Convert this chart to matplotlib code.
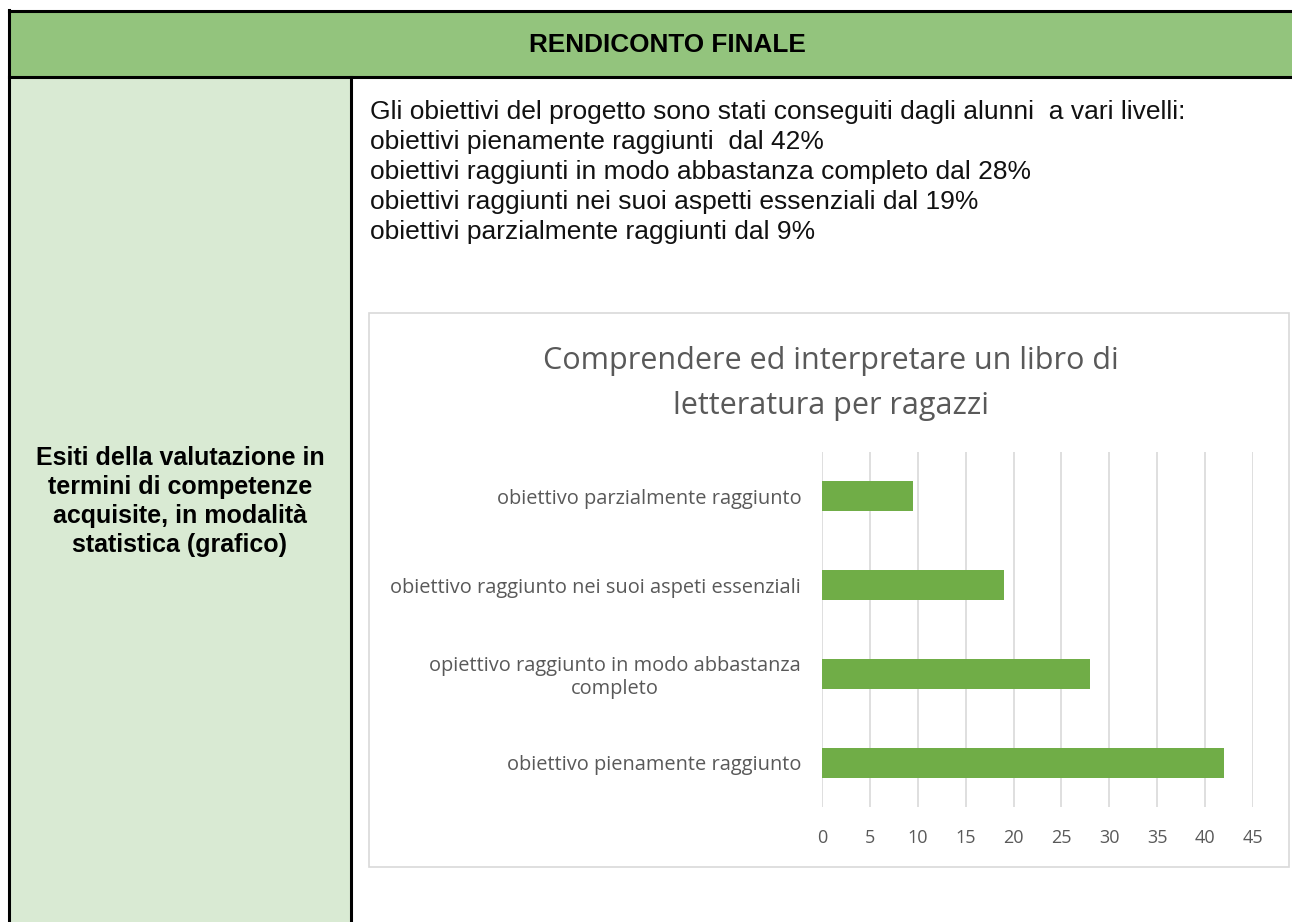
import matplotlib.pyplot as plt
from matplotlib.patches import Rectangle

W, H = 1292, 922

header = "RENDICONTO FINALE"
left_lines = [
    "Esiti della valutazione in",
    "termini di competenze",
    "acquisite, in modalità",
    "statistica (grafico)",
]
intro_lines = [
    "Gli obiettivi del progetto sono stati conseguiti dagli alunni  a vari livelli:",
    "obiettivi pienamente raggiunti  dal 42%",
    "obiettivi raggiunti in modo abbastanza completo dal 28%",
    "obiettivi raggiunti nei suoi aspetti essenziali dal 19%",
    "obiettivi parzialmente raggiunti dal 9%",
]

title_lines = ["Comprendere ed interpretare un libro di", "letteratura per ragazzi"]
categories = [
    "obiettivo pienamente raggiunto",
    "opiettivo raggiunto in modo abbastanza\ncompleto",
    "obiettivo raggiunto nei suoi aspeti essenziali",
    "obiettivo parzialmente raggiunto",
]
values = [42, 28, 19, 9.5]
x_ticks = [0, 5, 10, 15, 20, 25, 30, 35, 40, 45]


def fx(px):
    return px / W


def fy(py):
    return 1 - py / H


def rect(x0, y0, x1, y1, **kw):
    # pixel box (top-left origin) -> figure rectangle
    return Rectangle((fx(x0), fy(y1)), fx(x1) - fx(x0), fy(y0) - fy(y1),
                     transform=fig.transFigure, figure=fig, **kw)


fig = plt.figure(figsize=(W / 100, H / 100), dpi=100)
fig.patch.set_facecolor("white")

# table cells
fig.patches.append(rect(8, 11, W + 5, 77, facecolor="#93c47d", edgecolor="none"))
fig.patches.append(rect(8, 77, 351, H + 5, facecolor="#d9ead3", edgecolor="none"))

# table borders
lw = 2.2
fig.add_artist(plt.Line2D([fx(8.5), fx(W + 5)], [fy(11.5), fy(11.5)], color="black", lw=lw))
fig.add_artist(plt.Line2D([fx(8.5), fx(W + 5)], [fy(77), fy(77)], color="black", lw=lw))
fig.add_artist(plt.Line2D([fx(8.5), fx(8.5)], [fy(10), fy(H + 5)], color="black", lw=lw))
fig.add_artist(plt.Line2D([fx(351.5), fx(351.5)], [fy(77), fy(H + 5)], color="black", lw=lw))

fig.text(fx(667), fy(45), header, ha="center", va="center",
         fontsize=18.8, fontweight="bold", family="Liberation Sans")

for i, line in enumerate(left_lines):
    fig.text(fx(180), fy(465 + i * 29), line, ha="center", va="baseline",
             fontsize=18, fontweight="bold", family="Liberation Sans")

for i, line in enumerate(intro_lines):
    fig.text(fx(370), fy(119 + i * 30), line, ha="left", va="baseline",
             fontsize=19, family="Liberation Sans", color="#111111")

# chart frame
fig.patches.append(rect(369, 313, 1289, 867, facecolor="white",
                        edgecolor="#d9d9d9", lw=1.2))

for line, yb in zip(title_lines, [369, 414]):
    fig.text(fx(831), fy(yb), line, ha="center", va="baseline",
             fontsize=22, family="Open Sans", color="#595959")

ax = fig.add_axes([fx(822), fy(807), fx(1253) - fx(822), fy(452) - fy(807)])
ax.set_zorder(3)
ypos = range(len(categories))
ax.barh(ypos, values, height=0.34, color="#70ad47", zorder=3)
ax.set_xlim(0, 45)
ax.set_ylim(-0.5, len(categories) - 0.5)
ax.set_xticks(x_ticks)
ax.set_yticks(list(ypos))
ax.set_yticklabels(categories, fontsize=14.4, family="Open Sans", color="#595959",
                   multialignment="center", linespacing=1.15)
ax.tick_params(axis="both", length=0)
ax.tick_params(axis="y", pad=15)
ax.tick_params(axis="x", pad=16, labelcolor="#595959", labelsize=13)
for lbl in ax.get_xticklabels():
    lbl.set_family("Open Sans")
ax.grid(axis="x", color="#d9d9d9", lw=1.2, zorder=0)
for s in ax.spines.values():
    s.set_visible(False)
ax.set_facecolor("none")

fig.savefig("out.png", dpi=100)
